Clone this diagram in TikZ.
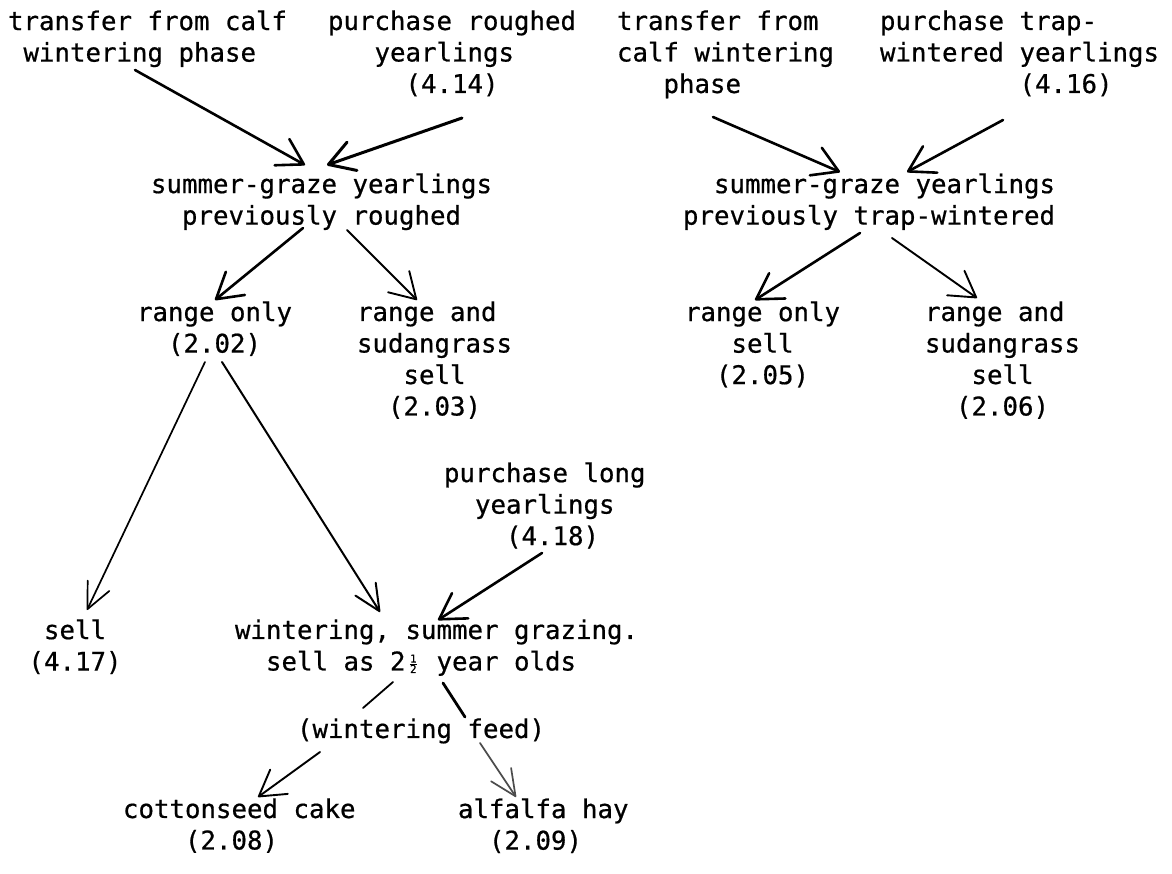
\documentclass[tikz,border=0pt]{standalone}
\usepackage{fontspec}
\newfontfamily\twfont{DejaVu Sans Mono}[FakeBold=0.6]
\usetikzlibrary{arrows.meta}
% one typewriter cell of blank space
\newcommand\cells[1]{\hspace*{#1\fontcharwd\font`0}}
% the stacked one-half of the typewriter, one cell wide
\newcommand\halfsym{\makebox[\fontcharwd\font`0]{\raisebox{0.25ex}{\fontsize{11}{11}\selectfont
  $\frac{\mbox{\twfont 1}}{\mbox{\twfont 2}}$}}}

\begin{document}
\begin{tikzpicture}[x=1pt,y=-1pt,
  lbl/.style={anchor=north west, inner sep=0pt, outer sep=0pt, align=left,
              yshift=19.6pt, font=\twfont\fontsize{25.75}{31.5}\selectfont},
  arr/.style={-{Straight Barb[length=25pt,width=30pt,round]}, line width=2.6pt, line cap=round},
  arrmid/.style={arr, line width=1.9pt},
  arrthin/.style={-{Straight Barb[length=26pt,width=24pt,round]}, line width=1.7pt, line cap=round},
  link/.style={line width=#1, line cap=round},
]
\useasboundingbox (0,0) rectangle (1172,873);

% ---- sources, top row
\node[lbl] (calfL)    at (8,30)   {transfer from calf\\\cells{1}wintering phase};
\node[lbl] (buyRough) at (328,30) {purchase roughed\\\cells{3}yearlings\\\cells{5}(4.14)};
\node[lbl] (calfR)    at (617,30) {transfer from\\calf wintering\\\cells{3}phase};
\node[lbl] (buyTrap)  at (880,30) {purchase trap-\\wintered yearlings\\\cells{9}(4.16)};

% ---- summer grazing
\node[lbl] (sgRough) at (151,193) {summer-graze yearlings\\\cells{2}previously roughed};
\node[lbl] (sgTrap)  at (683,193) {\cells{2}summer-graze yearlings\\previously trap-wintered};

% ---- grazing alternatives
\node[lbl] (rangeL) at (137,321) {range only\\\cells{2}(2.02)};
\node[lbl] (sudanL) at (357,321) {range and\\sudangrass\\\cells{3}sell\\\cells{2}(2.03)};
\node[lbl] (rangeR) at (685,321) {range only\\\cells{3}sell\\\cells{2}(2.05)};
\node[lbl] (sudanR) at (925,321) {range and\\sudangrass\\\cells{3}sell\\\cells{2}(2.06)};

% ---- long yearlings
\node[lbl] (buyLong) at (444,482) {purchase long\\\cells{2}yearlings\\\cells{4}(4.18)};
\node[lbl] (sellL)   at (28.5,639) {\cells{1}sell\\(4.17)};
\node[lbl] (winter)  at (235,639) {wintering, summer grazing.\\\cells{2}sell as 2\halfsym{} year olds};
\node[lbl] (feed)    at (297,738) {(wintering feed)};
\node[lbl] (cake)    at (123,818) {cottonseed cake\\\cells{4}(2.08)};
\node[lbl] (hay)     at (458,818) {alfalfa hay\\\cells{2}(2.09)};

% ---- connectors, left tree
\draw[arr]    ([shift={(127,59.6)}]calfL.north west)    -- ([shift={(154,-8.4)}]sgRough.north west);
\draw[arr, line width=3pt] ([shift={(134,107.6)}]buyRough.north west) -- ([shift={(176,-8.4)}]sgRough.north west);
\draw[arr]    ([shift={(152,54.6)}]sgRough.north west)  -- ([shift={(78,-1.4)}]rangeL.north west);
\draw[arrmid] ([shift={(196,56.6)}]sgRough.north west)  -- ([shift={(60,-1.4)}]sudanL.north west);
\draw[arrthin]([shift={(68,60.6)}]rangeL.north west)    -- ([shift={(58.5,-9.4)}]sellL.north west);
\draw[arrthin, line width=2pt]([shift={(85,60.6)}]rangeL.north west) -- ([shift={(145,-7.4)}]winter.north west);
\draw[arr]    ([shift={(98,90.6)}]buyLong.north west)   -- ([shift={(203,0.6)}]winter.north west);
\draw[link=1.8pt] ([shift={(158,62.6)}]winter.north west) -- ([shift={(66,-10.4)}]feed.north west);
\draw[link=2.8pt] ([shift={(208,63.6)}]winter.north west) -- ([shift={(168,-1.4)}]feed.north west);
\draw[arrmid] ([shift={(23,33.6)}]feed.north west)      -- ([shift={(135,-1.4)}]cake.north west);
\draw[arrthin, black!70] ([shift={(183,24.6)}]feed.north west) -- ([shift={(58,-1.4)}]hay.north west);

% ---- connectors, right tree
\draw[arr]    ([shift={(96,106.6)}]calfR.north west)    -- ([shift={(157,-1.4)}]sgTrap.north west);
\draw[arr]    ([shift={(123,109.6)}]buyTrap.north west) -- ([shift={(224,-1.4)}]sgTrap.north west);
\draw[arr]    ([shift={(177,59.6)}]sgTrap.north west)   -- ([shift={(70,-1.4)}]rangeR.north west);
\draw[arrmid] ([shift={(209,64.6)}]sgTrap.north west)   -- ([shift={(52,-3.4)}]sudanR.north west);
\end{tikzpicture}
\end{document}
